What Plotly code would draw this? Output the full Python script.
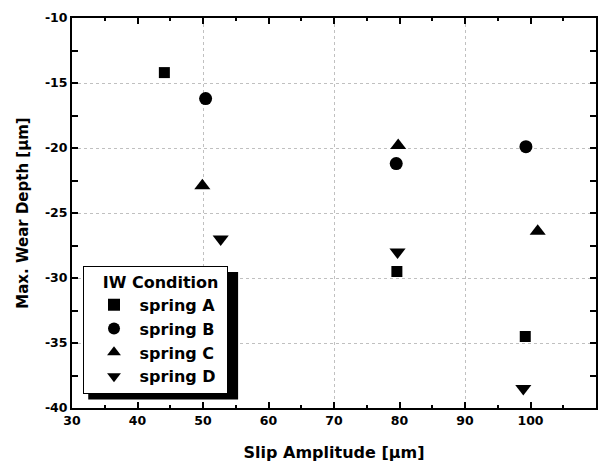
import plotly.graph_objects as go

series_names = ["spring A", "spring B", "spring C", "spring D"]
symbols = ["square", "circle", "triangle-up", "triangle-down"]
sizes = [11, 13, 14, 14]

slip_A = [44.1, 79.6, 99.2]
depth_A = [-14.2, -29.5, -34.5]
slip_B = [50.4, 79.5, 99.3]
depth_B = [-16.2, -21.2, -19.9]
slip_C = [49.9, 79.8, 101.1]
depth_C = [-22.9, -19.8, -26.4]
slip_D = [52.7, 79.7, 98.9]
depth_D = [-27.0, -28.0, -38.5]

y_tickvals = [-40, -35, -30, -25, -20, -15, -10]
y_ticktext = ["-40", "-35", "-30", "-25", "-20", "-15", "-10"]
x_grid = [50, 70, 90]

xs = [slip_A, slip_B, slip_C, slip_D]
ys = [depth_A, depth_B, depth_C, depth_D]

font_fam = "DejaVu Sans"
NB = "\u00a0"

fig = go.Figure()
for name, sym, sz, x, y in zip(series_names, symbols, sizes, xs, ys):
    fig.add_trace(go.Scatter(x=x, y=y, mode="markers", name=NB + name + NB,
                             legendgroup=name,
                             marker=dict(symbol=sym, size=sz, color="black")))

# invisible trace for grid overlay axis
fig.add_trace(go.Scatter(x=[None], y=[None], xaxis="x2", showlegend=False))

axis_common = dict(showline=True, linecolor="black", linewidth=2, mirror="allticks",
                   ticks="inside", ticklen=6, tickwidth=1.5, tickcolor="black",
                   zeroline=False, automargin=False,
                   tickfont=dict(family=font_fam, size=12.5, color="black", weight="bold"))

fig.update_layout(
    width=609, height=466,
    margin=dict(l=72, r=13, t=18, b=58),
    paper_bgcolor="white", plot_bgcolor="white",
    xaxis=dict(range=[30, 110], dtick=10, tick0=30, showgrid=False,
               minor=dict(ticks="inside", ticklen=3, dtick=5, tickcolor="black"),
               title=dict(text="<b>Slip Amplitude [μm]</b>", standoff=20,
                          font=dict(family=font_fam, size=16, color="black")),
               **axis_common),
    xaxis2=dict(range=[30, 110], overlaying="x", tickvals=x_grid, showticklabels=False,
                ticks="", showgrid=True, gridcolor="#c0c0c0", griddash="dot", gridwidth=1,
                showline=False, zeroline=False, automargin=False),
    yaxis=dict(range=[-40, -10], tickvals=y_tickvals, ticktext=y_ticktext, showgrid=True,
               gridcolor="#c0c0c0", griddash="dot", gridwidth=1,
               minor=dict(ticks="inside", ticklen=3, dtick=2.5, tickcolor="black"),
               title=dict(text="<b>Max. Wear Depth [μm]</b>", standoff=13,
                          font=dict(family=font_fam, size=15, color="black")),
               **axis_common),
    legend=dict(x=0.021, y=0.364, xanchor="left", yanchor="top",
                bgcolor="white", bordercolor="black", borderwidth=1,
                itemsizing="constant", indentation=10,
                title=dict(text=NB * 3 + "<b>IW Condition</b>",
                           font=dict(family=font_fam, size=16, color="black")),
                font=dict(family=font_fam, size=16, color="black", weight="bold"),
                tracegroupgap=0),
    shapes=[dict(type="rect", xref="paper", yref="paper",
                 x0=0.031, x1=0.317, y0=0.022, y1=0.349,
                 fillcolor="black", line=dict(width=0), layer="above")],
    showlegend=True,
)

fig.write_html("out.html", config={"displayModeBar": False},
               post_script="document.body.style.margin='0px';document.body.style.padding='0px';")
